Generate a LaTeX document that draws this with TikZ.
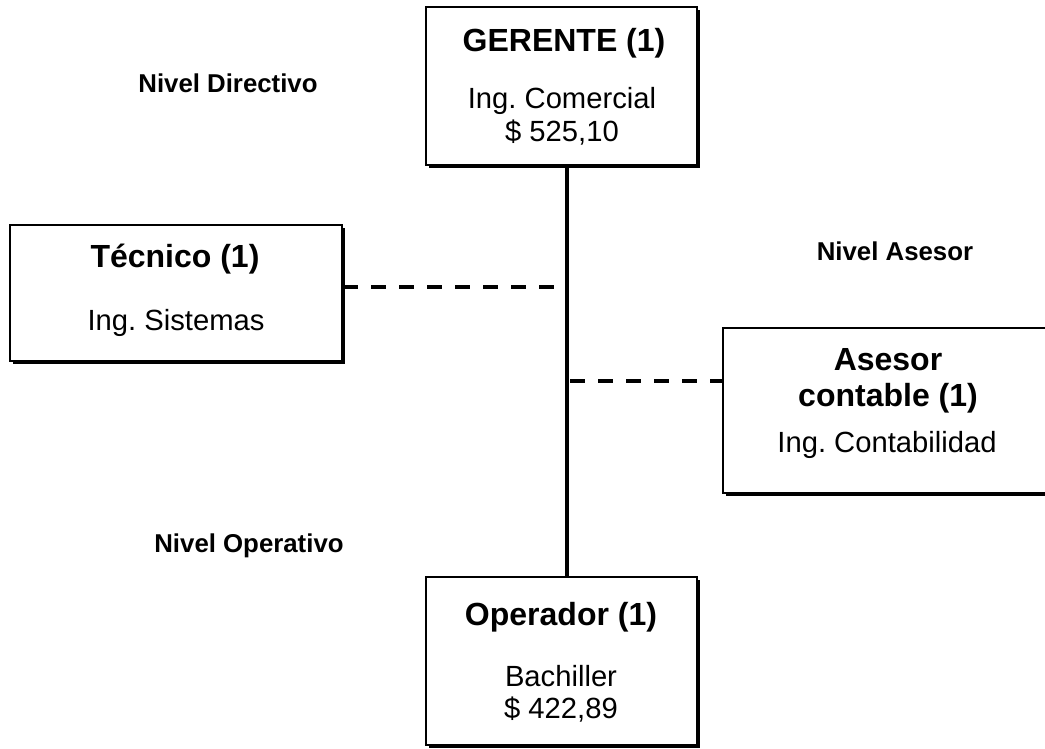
\documentclass[tikz,border=0pt]{standalone}
\usepackage{fontspec}
\setmainfont{Liberation Sans}
\usetikzlibrary{shadows}
\frenchspacing

\tikzset{
  cargo/.style={draw, line width=1.4pt, fill=white, inner sep=0pt,
    drop shadow={shadow xshift=1.3pt, shadow yshift=-1.3pt, fill=black, opacity=1}},
  titulo/.style={anchor=base, font=\fontsize{16}{19}\selectfont\bfseries},
  texto/.style={anchor=base, font=\fontsize{14.6}{17}\selectfont},
  nivel/.style={anchor=base, font=\fontsize{12.9}{15}\selectfont\bfseries},
  enlace/.style={line width=2pt, dash pattern=on 7.5pt off 6.5pt}
}

\begin{document}
\begin{tikzpicture}[x=0.5pt, y=-0.5pt]
      \useasboundingbox (0,0) rectangle (1045,749);
      \fill[white] (0,0) rectangle (1045,749);
      % cajas
      \node[cargo, minimum width=135.5pt, minimum height=79pt] (ger) at (561.5,86) {};
      \node[cargo, minimum width=166pt, minimum height=68pt] (tec) at (176,293) {};
      \node[cargo, minimum width=168.5pt, minimum height=82.5pt] (ase) at (891.5,410.5) {};
      \node[cargo, minimum width=135.5pt, minimum height=84pt] (ope) at (561.5,661) {};
      % textos de las cajas
      \node[titulo] (gerA) at (564,52) {GERENTE (1)};
      \node[texto] (gerB) at (562,109) {Ing. Comercial};
      \node[texto] (gerC) at (562,142) {\$ 525,10};
      \node[titulo] (tecA) at (175,267) {Técnico (1)};
      \node[texto] (tecB) at (176,330) {Ing. Sistemas};
      \node[titulo] (aseA) at (888,370) {Asesor};
      \node[titulo] (aseB) at (888,406) {contable (1)};
      \node[texto] (aseC) at (887,452) {Ing. Contabilidad};
      \node[titulo] (opeA) at (561,625) {Operador (1)};
      \node[texto] (opeB) at (561,686) {Bachiller};
      \node[texto] (opeC) at (561,718) {\$ 422,89};
      % niveles
      \node[nivel] (nivD) at (228,93) {Nivel Directivo};
      \node[nivel] (nivA) at (895,260) {Nivel Asesor};
      \node[nivel] (nivO) at (249,552) {Nivel Operativo};
      % conexiones
      \coordinate (eje) at (567,0);
      \coordinate (d1) at (554,287);
      \coordinate (d2) at (570,381);
      \draw[line width=2pt] (eje |- ger.south) -- (eje |- ope.north);
      \draw[enlace] (tec.east |- d1) -- (d1);
      \draw[enlace] (d2) -- (ase.west |- d2);
\end{tikzpicture}
\end{document}
